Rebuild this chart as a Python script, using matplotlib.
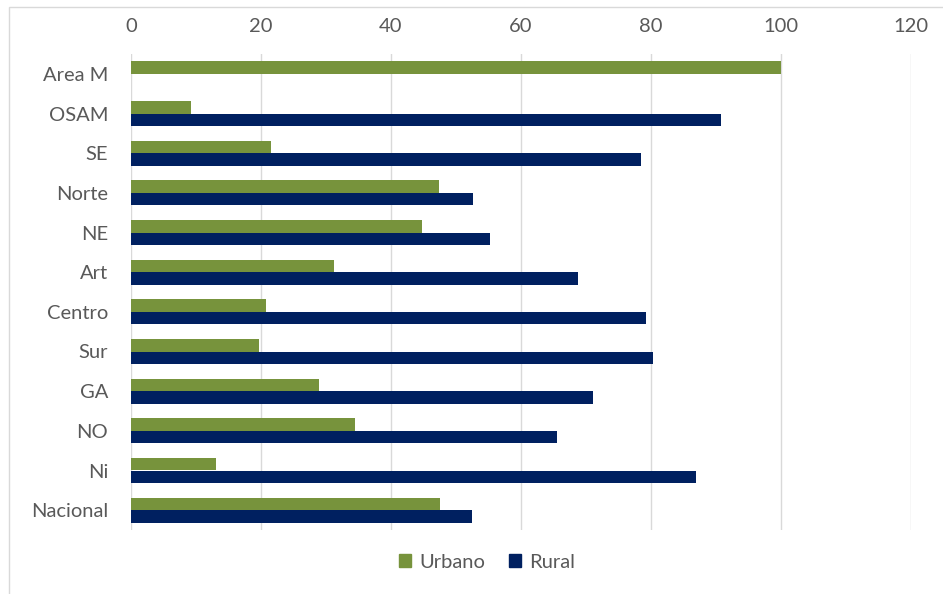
import matplotlib
matplotlib.use("Agg")
import matplotlib.pyplot as plt
import numpy as np
from matplotlib.patches import Rectangle, Patch

categories = ["Area M", "OSAM", "SE", "Norte", "NE", "Art", "Centro", "Sur", "GA", "NO", "Ni", "Nacional"]
urbano = [100, 9.3, 21.5, 47.4, 44.7, 31.2, 20.8, 19.7, 28.9, 34.5, 13.1, 47.5]
rural = [0, 90.7, 78.5, 52.6, 55.3, 68.8, 79.2, 80.3, 71.1, 65.5, 86.9, 52.5]
xticks = [0, 20, 40, 60, 80, 100, 120]

green = "#77933C"
navy = "#002060"
txt = "#595959"

plt.rcParams['font.family'] = ['Lato', 'DejaVu Sans']

fig = plt.figure(figsize=(9.43, 5.94), dpi=100)
fig.patches.append(Rectangle((9/943, -0.05), 1.0, 1-7/594 + 0.05, transform=fig.transFigure,
                             fill=False, edgecolor="#D9D9D9", linewidth=1))
ax = fig.add_axes([131/943, 1-530/594, 780/943, 476/594])

y = np.arange(len(categories))
h = 0.315
ax.barh(y - h/2, urbano, height=h, color=green, label="Urbano", zorder=3)
ax.barh(y + h/2, rural, height=h, color=navy, label="Rural", zorder=3)

ax.set_xlim(0, 120)
ax.set_ylim(len(categories) - 0.5, -0.5)
ax.set_xticks(xticks)
ax.set_yticks(y)
ax.set_yticklabels(categories)
ax.xaxis.tick_top()
ax.tick_params(axis='both', length=0, labelsize=14.5, colors=txt)
ax.tick_params(axis='x', pad=14)
ax.tick_params(axis='y', pad=16.5)
for s in ax.spines.values():
    s.set_visible(False)
ax.grid(axis='x', color="#D9D9D9", linewidth=1, zorder=0)
ax.set_axisbelow(True)

handles = [Patch(color=green, label="Urbano"), Patch(color=navy, label="Rural")]
fig.legend(handles=handles, loc='center', bbox_to_anchor=(487/943, 1-562/594), ncol=2,
           frameon=False, fontsize=14.5, handlelength=0.6, handleheight=0.6,
           handletextpad=0.4, columnspacing=1.2, labelcolor=txt)

fig.savefig("out.png", dpi=100)
